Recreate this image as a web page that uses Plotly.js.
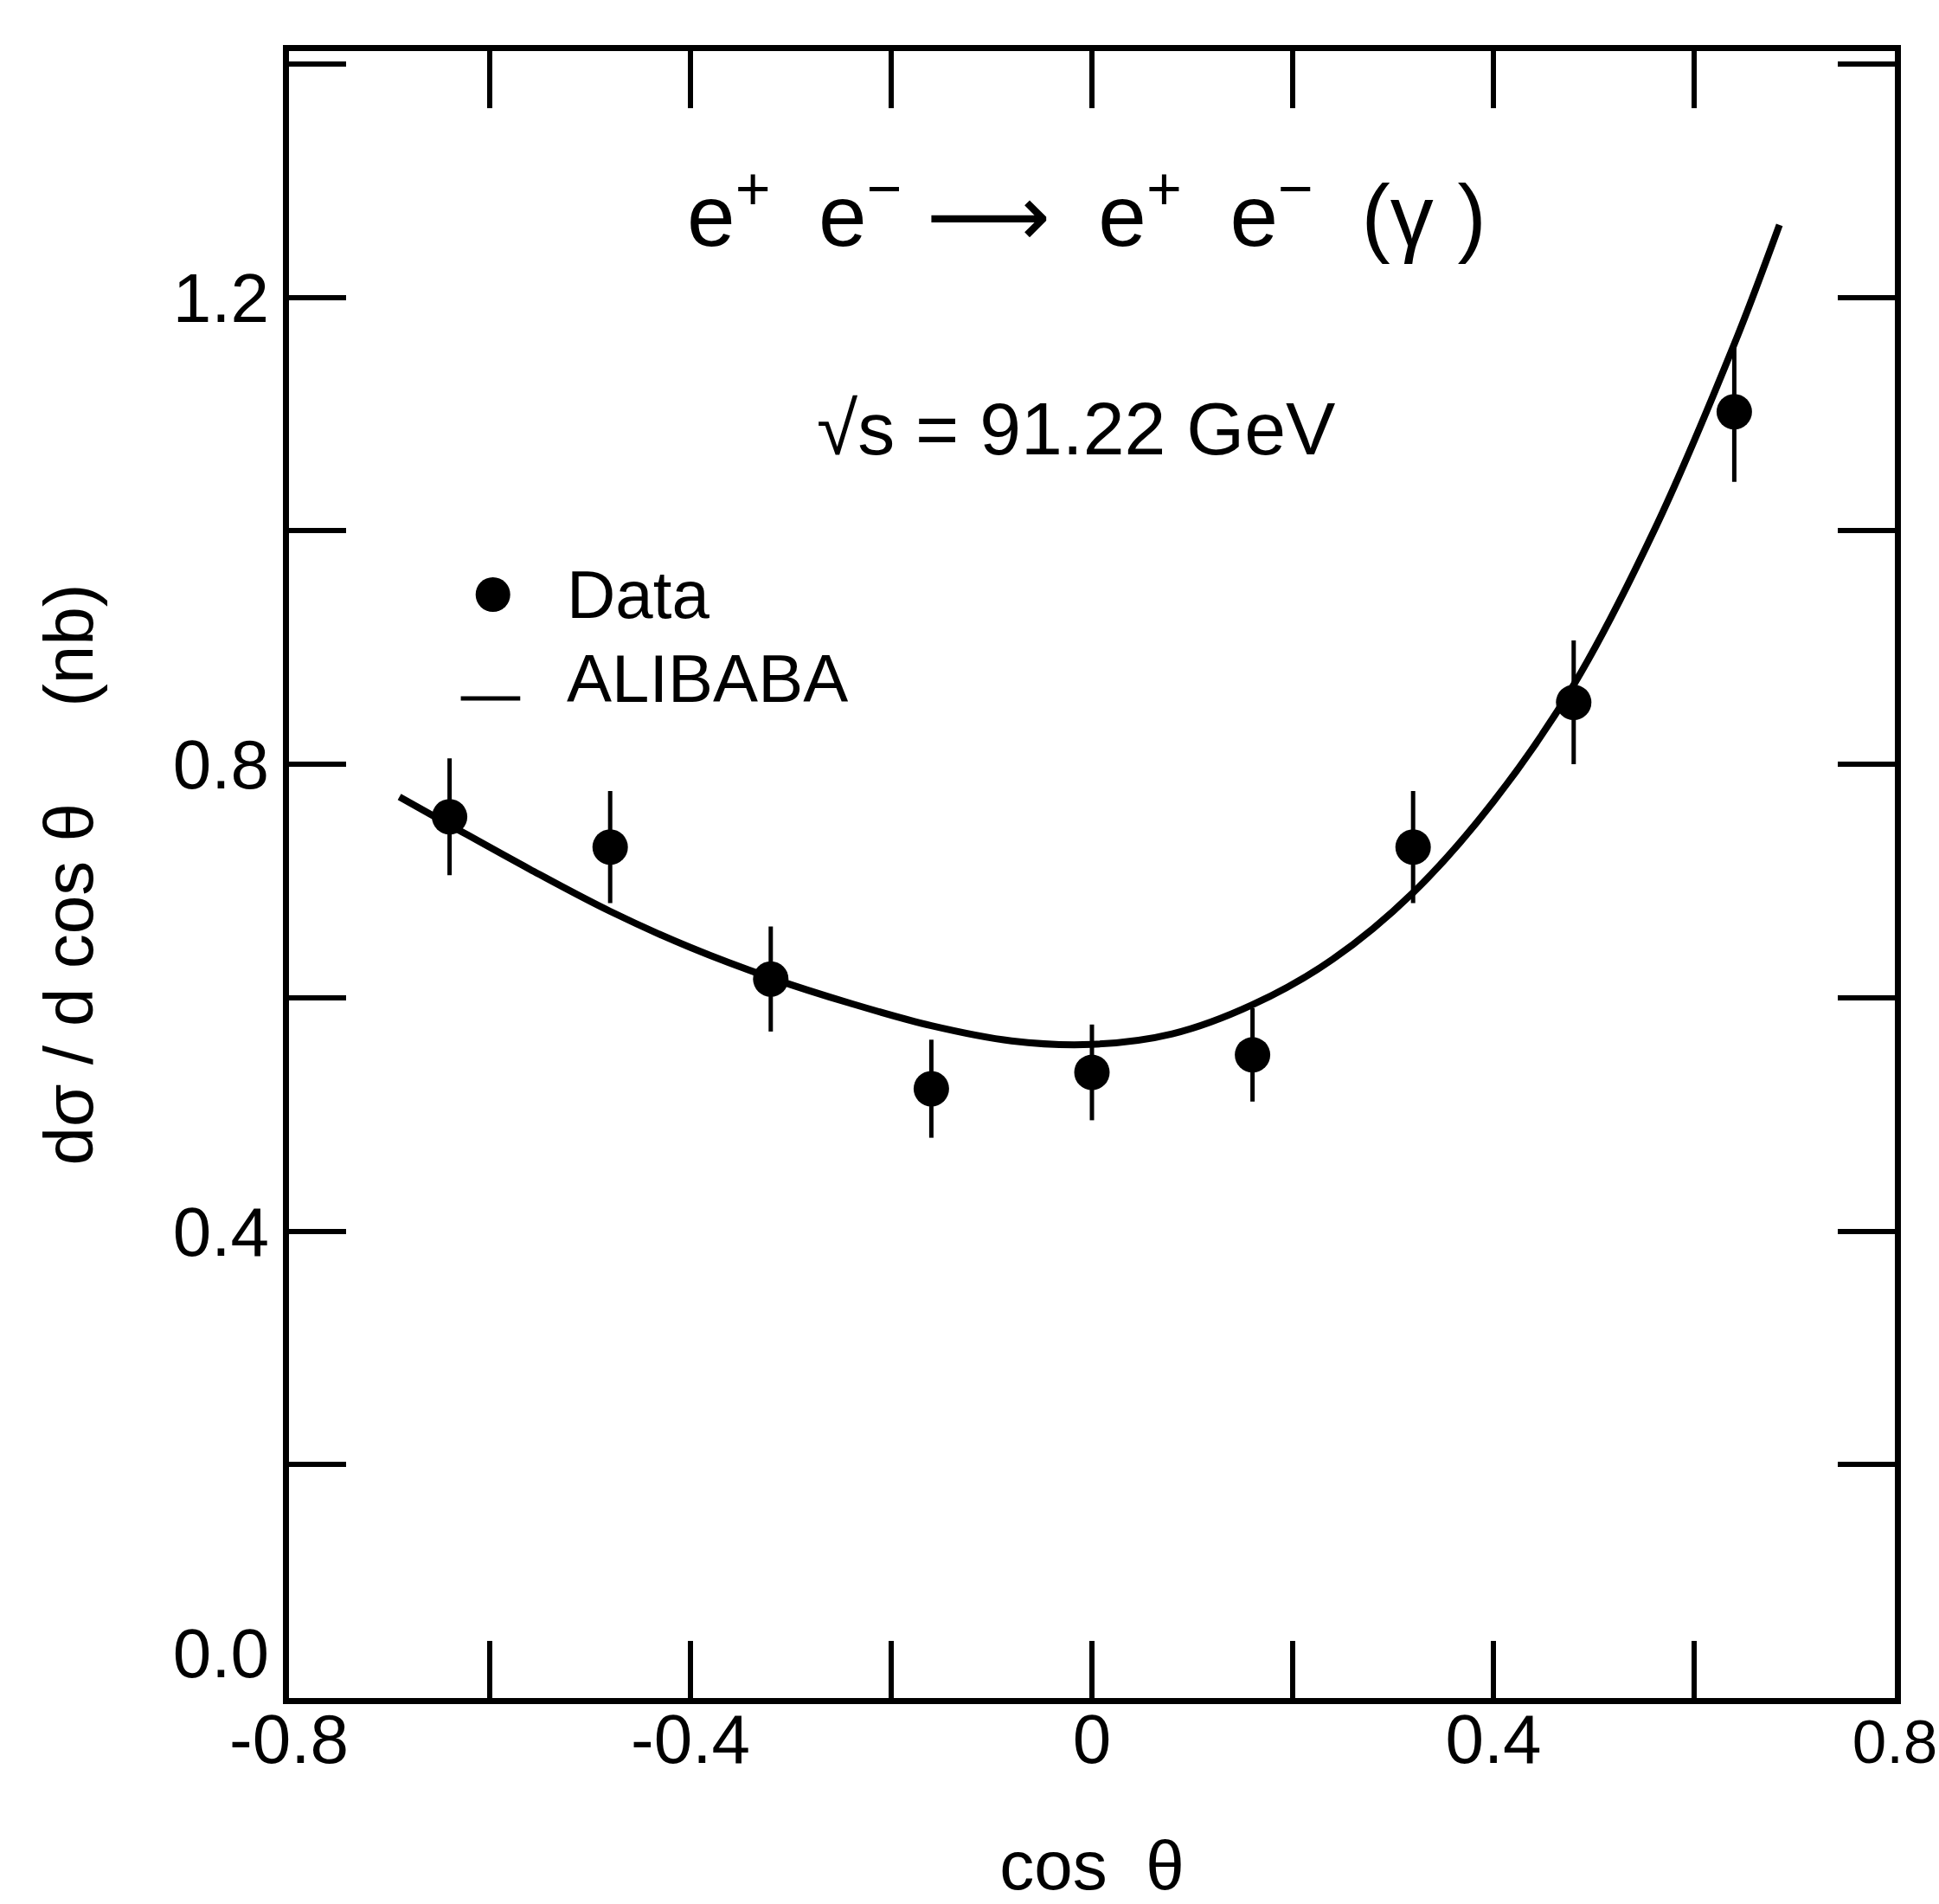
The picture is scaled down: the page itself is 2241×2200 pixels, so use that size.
<!DOCTYPE html>
<html>
<head>
<meta charset="utf-8">
<script src="https://cdn.plot.ly/plotly-3.0.1.min.js"></script>
<style>html,body{margin:0;padding:0;background:#fff;}</style>
</head>
<body>
<div id="chart" style="width:2241px;height:2200px;"></div>
<script>
// ALIBABA prediction curve
const curveX = [-0.69, -0.64, -0.56, -0.48, -0.40, -0.32, -0.24, -0.16, -0.08, 0.0, 0.08, 0.16, 0.24, 0.32, 0.40, 0.48, 0.56, 0.64, 0.685];
const curveY = [0.772, 0.748, 0.710, 0.674, 0.643, 0.617, 0.595, 0.576, 0.563, 0.560, 0.569, 0.594, 0.633, 0.690, 0.768, 0.868, 1.000, 1.160, 1.262];

// Measured data
const dataX = [-0.64, -0.48, -0.32, -0.16, 0.0, 0.16, 0.32, 0.48, 0.64];
const dataY = [0.755, 0.729, 0.616, 0.522, 0.536, 0.551, 0.729, 0.853, 1.102];
const dataErr = [0.050, 0.048, 0.045, 0.042, 0.041, 0.040, 0.048, 0.053, 0.060];

// Ticks and tick labels
const xTickVals = [-0.8, -0.4, 0, 0.4, 0.8];
const xTickText = ['-0.8', '-0.4', '0', '0.4', '<span style="font-size:71px">0.8</span>'];
const xMinorVals = [-0.6, -0.2, 0.2, 0.6];
const yTickVals = [0, 0.4, 0.8, 1.2];
const yTickText = ['0.0<br>', '0.4', '0.8', '1.2'];
const yMinorVals = [0.2, 0.6, 1.0, 1.4];

const FONT = 'Liberation Sans, Arial, Helvetica, DejaVu Sans, sans-serif';
const NB = '\u00a0';

const traces = [
  {
    x: curveX, y: curveY, type: 'scatter', mode: 'lines', name: 'ALIBABA',
    line: {color: '#000', width: 8, shape: 'spline', smoothing: 1.0},
    hoverinfo: 'skip'
  },
  {
    x: dataX, y: dataY, type: 'scatter', mode: 'markers', name: 'Data',
    marker: {color: '#000', size: 41, symbol: 'circle'},
    error_y: {type: 'data', array: dataErr, visible: true, color: '#000', thickness: 5, width: 0}
  }
];

const tickStyle = {ticks: 'inside', ticklen: 66, tickwidth: 6, tickcolor: '#000'};

const axisCommon = Object.assign({
  showline: true, linecolor: '#000', linewidth: 7, mirror: 'ticks',
  showgrid: false, zeroline: false,
  tickfont: {family: FONT, size: 80, color: '#000'},
  tickmode: 'array'
}, tickStyle);

const layout = {
  width: 2241, height: 2200,
  margin: {l: 334, r: 51, t: 59, b: 238},
  paper_bgcolor: '#fff', plot_bgcolor: '#fff',
  showlegend: false,
  font: {family: FONT, color: '#000'},
  xaxis: Object.assign({}, axisCommon, {
    range: [-0.8, 0.8], tickvals: xTickVals, ticktext: xTickText,
    ticklabelstandoff: -28,
    minor: Object.assign({tickmode: 'array', tickvals: xMinorVals}, tickStyle),
    title: {text: 'cos' + NB + NB + 'θ', font: {family: FONT, size: 80, color: '#000'}, standoff: 91}
  }),
  yaxis: Object.assign({}, axisCommon, {
    range: [0, 1.411], tickvals: yTickVals, ticktext: yTickText,
    minor: Object.assign({tickmode: 'array', tickvals: yMinorVals}, tickStyle),
    title: {text: 'dσ / d cos θ' + NB + NB + NB + NB + NB + '(nb)', font: {family: FONT, size: 80, color: '#000'}, standoff: 68}
  }),
  annotations: [
    {
      xref: 'paper', yref: 'paper', x: 0.497, y: 0.904, xanchor: 'center', yanchor: 'middle',
      showarrow: false,
      text: 'e<sup>+</sup>' + NB + NB + 'e<sup>−</sup>' + NB + '⟶' + NB + NB + 'e<sup>+</sup>' + NB + NB + 'e<sup>−</sup>' + NB + NB + '(γ' + NB + ')',
      font: {family: FONT, size: 100, color: '#000'}
    },
    {
      xref: 'paper', yref: 'paper', x: 0.49, y: 0.771, xanchor: 'center', yanchor: 'middle',
      showarrow: false,
      text: '√s = 91.22 GeV',
      font: {family: FONT, size: 86, color: '#000'}
    },
    {
      xref: 'paper', yref: 'paper', x: 0.172, y: 0.670, xanchor: 'left', yanchor: 'middle',
      showarrow: false, text: 'Data', font: {family: FONT, size: 78, color: '#000'}
    },
    {
      xref: 'paper', yref: 'paper', x: 0.172, y: 0.619, xanchor: 'left', yanchor: 'middle',
      showarrow: false, text: 'ALIBABA', font: {family: FONT, size: 78, color: '#000'}
    }
  ],
  shapes: [
    {
      type: 'circle', xref: 'paper', yref: 'paper',
      xsizemode: 'pixel', ysizemode: 'pixel', xanchor: 0.127, yanchor: 0.670,
      x0: -20, x1: 20, y0: -20, y1: 20,
      fillcolor: '#000', line: {color: '#000', width: 0}
    },
    {
      type: 'line', xref: 'paper', yref: 'paper',
      x0: 0.107, x1: 0.144, y0: 0.607, y1: 0.607,
      line: {color: '#000', width: 5}
    }
  ]
};

Plotly.newPlot('chart', traces, layout, {staticPlot: true, displayModeBar: false});
</script>
</body>
</html>
